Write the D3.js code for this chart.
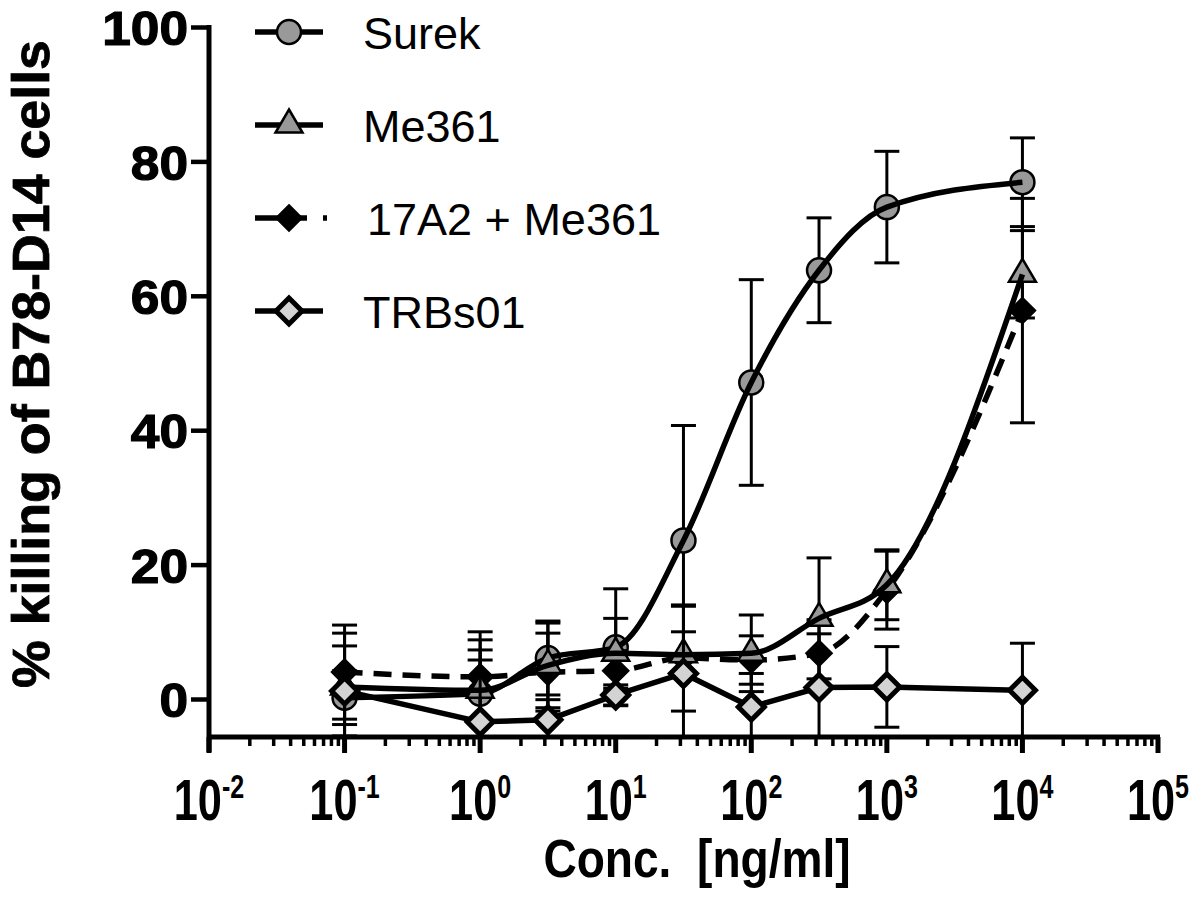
<!DOCTYPE html>
<html><head><meta charset="utf-8">
<script src="https://cdn.jsdelivr.net/npm/d3@7"></script>
<style>body{margin:0;background:#fff}svg{display:block}</style>
</head><body>
<svg id="chart" width="1200" height="899"></svg>
<script>
// ---- data ----
const concentrations = [0.1, 1, 3.16, 10, 31.6, 100, 316, 1000, 10000];
const seriesNames = ["Surek", "Me361", "17A2 + Me361", "TRBs01"];
const surekMean = [0.2, 0.8, 6.1, 7.7, 23.6, 47.1, 63.8, 73.2, 76.9];
const surekSD   = [4.0, 6.5, 5.5, 8.7, 17.1, 15.3, 7.8, 8.3, 6.6];
const me361Mean = [1.8, 1.3, 5.0, 6.8, 6.6, 6.8, 12.0, 17.0, 63.2];
const me361SD   = [8.0, 7.5, 6.3, 5.2, 3.4, 5.7, 9.0, 5.2, 6.5];
const combMean  = [4.0, 3.3, 4.0, 4.2, 6.1, 5.8, 6.8, 16.2, 57.8];
const combSD    = [7.0, 6.7, 5.8, 3.0, 7.9, 3.6, 5.0, 5.8, 16.7];
const trbMean   = [1.2, -3.4, -3.1, 0.6, 3.8, -1.2, 1.7, 1.8, 1.3];
const trbSD     = [6.7, 9.2, 3.0, 1.5, 10.0, 5.0, 8.0, 6.0, 7.0];
const yTicks = [0, 20, 40, 60, 80, 100];
const xTickExponents = [-2, -1, 0, 1, 2, 3, 4, 5];
const xTitle = "Conc.  [ng/ml]";
const yTitle = "% killing of B78-D14 cells";

// ---- layout ----
const svg = d3.select("#chart");
const x = d3.scaleLog().domain([0.01, 1e5]).range([209, 1158]);
const y = d3.scaleLinear().domain([0, 100]).range([699, 27]);
const axisY = 737;

svg.append("defs").append("clipPath").attr("id", "plotclip")
  .append("rect").attr("x", 150).attr("y", 0).attr("width", 1050).attr("height", axisY - 2);

const FONT = "'Liberation Sans', Arial, Helvetica, sans-serif";

// ---- axes ----
const yAxis = d3.axisLeft(y).tickValues(yTicks).tickSize(18).tickPadding(8).tickFormat(d3.format("d"));
const gy = svg.append("g").attr("transform", "translate(209,0)").call(yAxis);
gy.select(".domain").remove();
gy.selectAll(".tick line").attr("stroke", "#000").attr("stroke-width", 4.5);
gy.selectAll(".tick text").attr("font-family", FONT).attr("font-weight", "900")
  .attr("font-size", 49).attr("fill", "#000")
  .attr("x", 0).attr("text-anchor", "end").attr("dy", "0.36em")
  .attr("transform", "translate(-21,0) scale(1.05,1)")
  .attr("stroke", "#000").attr("stroke-width", 1.2);
svg.append("line").attr("x1", 209).attr("x2", 209).attr("y1", y(100) - 2).attr("y2", axisY + 15)
  .attr("stroke", "#000").attr("stroke-width", 5);

// x axis: major + minor ticks
const minorTicks = [];
for (let e = -2; e < 5; e++) for (let m = 2; m <= 9; m++) minorTicks.push(m * Math.pow(10, e));
const gx = svg.append("g");
gx.append("line").attr("x1", 207).attr("x2", x(1e5) + 2).attr("y1", axisY).attr("y2", axisY)
  .attr("stroke", "#000").attr("stroke-width", 5);
gx.selectAll("line.minor").data(minorTicks).join("line").attr("class", "minor")
  .attr("x1", d => x(d)).attr("x2", d => x(d)).attr("y1", axisY).attr("y2", axisY + 9)
  .attr("stroke", "#000").attr("stroke-width", 3.5);
gx.selectAll("line.major").data(xTickExponents).join("line").attr("class", "major")
  .attr("x1", d => x(Math.pow(10, d))).attr("x2", d => x(Math.pow(10, d)))
  .attr("y1", axisY).attr("y2", axisY + 16).attr("stroke", "#000").attr("stroke-width", 5);
const xl = gx.selectAll("g.xl").data(xTickExponents).join("g").attr("class", "xl")
  .attr("transform", d => `translate(${x(Math.pow(10, d))},820) scale(0.76,1)`);
const xt = xl.append("text").attr("text-anchor", "middle").attr("font-family", FONT)
  .attr("font-weight", "bold").attr("font-size", 57).attr("fill", "#000");
xt.append("tspan").text("10");
xt.append("tspan").attr("font-size", 33).attr("dy", -22).text(d => d < 0 ? "-" + Math.abs(d) : String(d));

// axis titles
svg.append("text").attr("font-family", FONT).attr("font-weight", "bold").attr("font-size", 53)
  .attr("text-anchor", "middle").attr("transform", "translate(697,877) scale(0.87,1)")
  .attr("xml:space", "preserve").style("white-space", "pre").text(xTitle);
svg.append("text").attr("font-family", FONT).attr("font-weight", "900").attr("font-size", 52)
  .attr("text-anchor", "middle").attr("transform", "translate(49,364) rotate(-90)")
  .attr("stroke", "#000").attr("stroke-width", 0.8)
  .attr("textLength", 648).attr("lengthAdjust", "spacingAndGlyphs").text(yTitle);

// ---- markers ----
function markerPath(type) {
  if (type === "circle") return d3.symbol(d3.symbolCircle, Math.PI * 12 * 12)();
  if (type === "triangle") return "M0,-15.5L13.5,7.5L-13.5,7.5Z";
  if (type === "bdiamond") return "M0,-12.5L12.5,0L0,12.5L-12.5,0Z";
  return "M0,-13L13,0L0,13L-13,0Z";
}
const series = [
  { name: seriesNames[0], mean: surekMean, sd: surekSD, marker: "circle", fill: "#999", sw: 2.5, dash: null, curve: d3.curveMonotoneX, lineOver: true },
  { name: seriesNames[2], mean: combMean, sd: combSD, marker: "bdiamond", fill: "#000", sw: 2.5, dash: "18,11", curve: d3.curveMonotoneX, lineOver: true },
  { name: seriesNames[1], mean: me361Mean, sd: me361SD, marker: "triangle", fill: "#999", sw: 2.5, dash: null, curve: d3.curveMonotoneX, lineOver: true },
  { name: seriesNames[3], mean: trbMean, sd: trbSD, marker: "diamond", fill: "#d3d3d3", sw: 5, dash: null, curve: d3.curveLinear, lineOver: false }
];

const plot = svg.append("g").attr("clip-path", "url(#plotclip)");
series.forEach(s => {
  const pts = concentrations.map((c, i) => ({ c, m: s.mean[i], sd: s.sd[i] }));
  const g = plot.append("g");
  const line = d3.line().x(d => x(d.c)).y(d => y(d.m)).curve(s.curve);
  const drawLine = () => g.append("path").attr("d", line(pts)).attr("fill", "none")
    .attr("stroke", "#000").attr("stroke-width", 5.5)
    .attr("stroke-dasharray", s.dash).attr("stroke-linejoin", "round");
  if (!s.lineOver) drawLine();
  const eb = g.selectAll("g.eb").data(pts).join("g");
  eb.append("line").attr("x1", d => x(d.c)).attr("x2", d => x(d.c))
    .attr("y1", d => y(d.m - d.sd)).attr("y2", d => y(d.m + d.sd))
    .attr("stroke", "#000").attr("stroke-width", 3);
  [1, -1].forEach(sg => eb.append("line")
    .attr("x1", d => x(d.c) - 12.5).attr("x2", d => x(d.c) + 12.5)
    .attr("y1", d => y(d.m + sg * d.sd)).attr("y2", d => y(d.m + sg * d.sd))
    .attr("stroke", "#000").attr("stroke-width", 3));
  g.selectAll("path.mk").data(pts).join("path").attr("class", "mk")
    .attr("d", markerPath(s.marker))
    .attr("transform", d => `translate(${x(d.c)},${y(d.m)})`)
    .attr("fill", s.fill).attr("stroke", "#000").attr("stroke-width", s.sw)
    .attr("stroke-linejoin", "miter");
  if (s.lineOver) drawLine();
});

// ---- legend ----
const legendOrder = [
  { s: series[0], yy: 32 }, { s: series[2], yy: 125 }, { s: series[1], yy: 218 }, { s: series[3], yy: 311 }
];
const lg = svg.append("g");
legendOrder.forEach(({ s, yy }) => {
  lg.append("line").attr("x1", 255).attr("x2", s.dash ? 328 : 323).attr("y1", yy).attr("y2", yy)
    .attr("stroke", "#000").attr("stroke-width", 5.5).attr("stroke-dasharray", s.dash ? "52,16,4,40" : null);
  lg.append("path").attr("d", markerPath(s.marker)).attr("transform", `translate(289,${yy})`)
    .attr("fill", s.fill).attr("stroke", "#000").attr("stroke-width", s.sw);
  lg.append("text").attr("x", s.dash ? 367 : 363).attr("y", yy + 17).attr("font-family", FONT)
    .attr("font-size", 45).attr("fill", "#000").text(s.name);
});
</script>
</body></html>
